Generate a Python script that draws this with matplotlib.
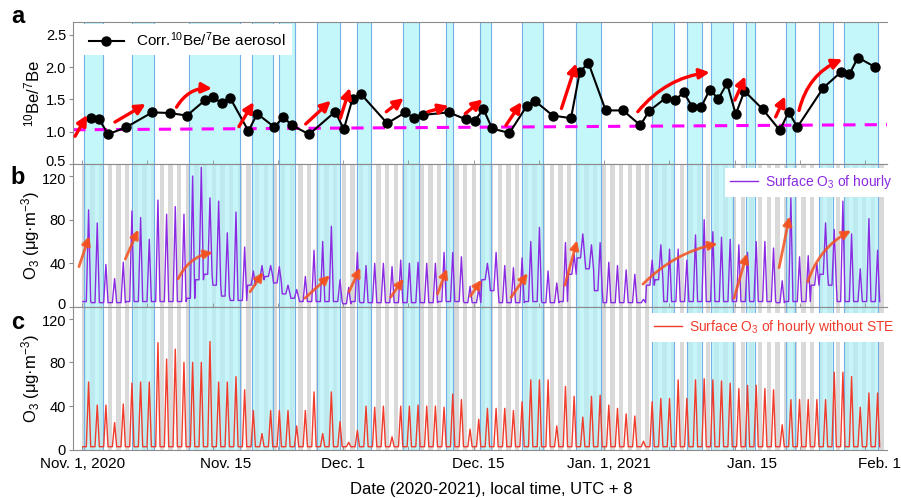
import numpy as np
import matplotlib.pyplot as plt
import matplotlib.transforms as mtrans
from matplotlib.colors import to_rgba

plt.rcParams['font.family'] = ['Liberation Sans', 'DejaVu Sans']
plt.rcParams['mathtext.fontset'] = 'custom'
plt.rcParams['mathtext.rm'] = 'Liberation Sans'
plt.rcParams['mathtext.it'] = 'Liberation Sans:italic'

# x = days since Nov. 1, 2020
be_day = [1.0, 2.0, 3.0, 5.1, 8.1, 10.1, 12.1, 14.2, 15.1, 16.1, 17.1, 19.2, 20.2, 22.2, 23.2,
          24.2, 26.2, 29.2, 30.2, 31.2, 32.2, 35.2, 37.3, 38.3, 39.3, 42.3, 44.3, 45.3, 46.3, 47.3,
          49.3, 51.3, 52.3, 54.3, 56.4, 57.4, 58.4, 60.4, 62.4, 64.4, 65.4, 67.4, 68.4, 69.4, 70.4,
          71.4, 72.4, 73.4, 74.4, 75.4, 76.4, 78.5, 80.5, 81.5, 82.5, 85.5, 87.5, 88.5, 89.5, 91.5]
be_ratio = [1.22, 1.19, 0.96, 1.07, 1.30, 1.29, 1.25, 1.49, 1.54, 1.44, 1.52, 1.01, 1.28, 1.07, 1.23,
            1.10, 0.96, 1.31, 1.04, 1.51, 1.58, 1.13, 1.30, 1.21, 1.26, 1.30, 1.19, 1.17, 1.35, 1.05,
            0.98, 1.40, 1.47, 1.25, 1.21, 1.92, 2.07, 1.33, 1.33, 1.10, 1.32, 1.53, 1.49, 1.61, 1.38,
            1.38, 1.65, 1.51, 1.75, 1.27, 1.63, 1.35, 1.02, 1.31, 1.07, 1.68, 1.92, 1.89, 2.15, 2.00]
trend_day = [-1.0, 93.0]
trend_ratio = [1.03, 1.11]

# STE periods (cyan)
ste_start = [0.27, 5.8, 12.38, 19.64, 22.76, 27.14, 31.75, 37.06, 41.95, 45.9, 50.78, 56.94,
             65.78, 69.82, 72.58, 76.62, 81.23, 84.95, 87.85]
ste_end = [2.39, 8.34, 18.22, 22.06, 24.57, 29.76, 33.3, 38.9, 42.83, 47.14, 53.2, 59.83,
           68.32, 71.55, 75.12, 77.66, 82.2, 86.59, 91.84]

# daily maximum / night minimum of hourly O3 (ug m-3)
o3_peak = [89, 77, 39, 26, 41, 88, 82, 62, 98, 85,
           92, 85, 120, 128, 100, 97, 68, 87, 55, 33,
           38, 38, 37, 20, 16, 28, 52, 60, 74, 25,
           18, 50, 38, 40, 40, 37, 43, 40, 41, 40,
           40, 50, 50, 46, 19, 17, 40, 50, 38, 36,
           45, 60, 73, 33, 22, 59, 48, 67, 57, 59,
           41, 38, 34, 30, 7, 43, 57, 53, 53, 43,
           66, 80, 69, 64, 62, 57, 50, 60, 60, 54,
           24, 100, 46, 47, 40, 77, 71, 97, 67, 35,
           81, 52]
o3_base = [5, 4, 4, 4, 4, 5, 5, 5, 5, 5,
           5, 5, 8, 25, 30, 20, 10, 6, 6, 20,
           25, 28, 22, 12, 8, 5, 5, 5, 5, 5,
           3, 5, 4, 4, 4, 4, 4, 4, 4, 4,
           4, 5, 5, 5, 4, 4, 25, 15, 4, 4,
           4, 5, 5, 4, 4, 5, 30, 45, 35, 15,
           4, 4, 4, 4, 4, 20, 25, 5, 5, 5,
           5, 5, 5, 5, 5, 5, 5, 5, 5, 5,
           4, 5, 5, 5, 20, 30, 20, 5, 5, 5,
           5, 5]
o3n_peak = [62, 41, 41, 25, 42, 61, 62, 62, 98, 83,
            92, 80, 80, 80, 99, 62, 62, 67, 55, 36,
            15, 36, 36, 36, 22, 36, 53, 15, 53, 26,
            7, 18, 40, 39, 40, 12, 40, 40, 41, 40,
            40, 39, 51, 46, 19, 28, 38, 38, 38, 36,
            44, 64, 64, 64, 22, 58, 49, 30, 49, 50,
            41, 38, 33, 31, 8, 44, 47, 47, 64, 47,
            64, 65, 64, 63, 61, 56, 59, 59, 56, 55,
            23, 46, 46, 46, 46, 46, 71, 71, 67, 39,
            52, 52]
o3n_base = [3] * 92

arrows_a = [(-0.8, 0.93, 0.6, 1.26, 0), (3.8, 1.15, 7.35, 1.43, 0), (10.9, 1.38, 15.0, 1.67, -0.3),
            (18.1, 1.08, 19.8, 1.46, 0), (25.8, 1.12, 28.7, 1.48, 0), (29.8, 1.21, 30.9, 1.68, 0),
            (35.1, 1.31, 37.1, 1.52, 0), (39.9, 1.31, 42.3, 1.40, 0), (44.2, 1.28, 46.2, 1.50, 0),
            (48.9, 1.10, 50.7, 1.46, 0), (55.3, 1.36, 57.0, 2.06, 0), (64.1, 1.31, 72.4, 1.92, -0.2),
            (75.3, 1.49, 76.5, 1.86, 0), (80.0, 1.23, 81.1, 1.55, 0), (82.7, 1.33, 87.7, 2.12, -0.25)]
arrows_b = [(-0.35, 37, 0.84, 65, 0), (5.0, 44, 6.5, 71, 0), (11.1, 26, 15.1, 50, -0.25),
            (19.4, 14, 20.9, 32, 0), (25.7, 8, 28.6, 29, 0), (30.8, 14, 32.1, 36, 0),
            (35.6, 9, 37.1, 26, 0), (41.0, 12, 42.1, 35, 0), (44.8, 10, 46.1, 25, 0),
            (49.5, 9, 51.4, 31, 0), (55.7, 20, 57.1, 61, 0), (64.7, 21, 73.3, 58, -0.15),
            (75.2, 8, 76.7, 49, 0), (80.4, 36, 81.6, 83, 0), (83.7, 23, 88.7, 70, -0.2)]

tick_days = np.arange(13) * 7.527
label_days = [0.1, 16.6, 30.1, 45.7, 60.8, 77.3, 92.0]
label_text = ['Nov. 1, 2020', 'Nov. 15', 'Dec. 1', 'Dec. 15', 'Jan. 1, 2021', 'Jan. 15', 'Feb. 1']


def hourly(peak, base):
    xs, ys = [], []
    for d, (p, b) in enumerate(zip(peak, base)):
        xs += [d + 0.1, d + 0.5, d + 0.76, d + 1.0]
        ys += [b, b, p, b]
    return xs, ys


cyan = '#c4f7fa'
edge = '#74b0e6'
gray = '#d9d9d9'
spine_c = '#8c8c8c'

fig = plt.figure(figsize=(9.01, 4.98), dpi=100)
axa = fig.add_axes([0.081, 0.6707, 0.9035, 0.2851])
axb = fig.add_axes([0.081, 0.3835, 0.9035, 0.2871])
axc = fig.add_axes([0.081, 0.0964, 0.9035, 0.2871])

for ax in (axa, axb, axc):
    ax.set_xlim(-1.04, 92.85)
    for s in ('top', 'bottom', 'left'):
        ax.spines[s].set_color(spine_c)
        ax.spines[s].set_linewidth(0.8)
    ax.spines['right'].set_visible(False)
    ax.set_xticks(tick_days, minor=True)
    ax.set_xticks(label_days)
    ax.tick_params(axis='x', which='major', length=0)
    ax.tick_params(axis='x', which='minor', direction='in', length=3, color=spine_c)
    ax.tick_params(axis='y', direction='out', length=3, color=spine_c, labelsize=10.5, pad=2)
    ax.yaxis.set_label_coords(-0.038, 0.5)

# gray night bands for O3 panels
for ax in (axb, axc):
    for d in range(93):
        ax.axvspan(d - 0.05, d + 0.45, color=gray, lw=0, zorder=0)

for s0, s1 in zip(ste_start, ste_end):
    axa.axvspan(s0, s1, facecolor=cyan, edgecolor=edge, lw=0.8, zorder=0.5)
    for ax in (axb, axc):
        ax.axvspan(s0, s1, facecolor=to_rgba('#b0f2f7', 0.7), edgecolor=edge, lw=0.8, zorder=0.5)

# panel a
axa.plot(trend_day, trend_ratio, color='#ff00ff', lw=2.2, dashes=(4, 3), zorder=2)
axa.plot(be_day, be_ratio, '-o', color='black', lw=1.5, ms=6.5, zorder=4,
         label='Corr.$^{10}$Be/$^{7}$Be aerosol')
for x0, y0, x1, y1, rad in arrows_a:
    axa.annotate('', xy=(x1, y1), xytext=(x0, y0), zorder=5,
                 arrowprops=dict(arrowstyle='-|>', color='red', lw=2.4, mutation_scale=15,
                                 shrinkA=0, shrinkB=0, connectionstyle=f'arc3,rad={rad}'))
axa.set_ylim(0.5, 2.7)
axa.set_yticks([0.5, 1.0, 1.5, 2.0, 2.5])
axa.set_yticklabels(['0.5', '1.0', '1.5', '2.0', '2.5'])
axa.set_ylabel('$^{10}$Be/$^{7}$Be', fontsize=12)
axa.set_xticklabels([])
axa.legend(loc='upper left', bbox_to_anchor=(0.012, 0.985), borderaxespad=0, fontsize=11,
           fancybox=False, framealpha=1, edgecolor='none', handlelength=2.3)

# panel b
xb, yb = hourly(o3_peak, o3_base)
axb.plot(xb, yb, color='#8a2be2', lw=1.0, zorder=3, label='Surface O$_3$ of hourly')
for x0, y0, x1, y1, rad in arrows_b:
    axb.annotate('', xy=(x1, y1), xytext=(x0, y0), zorder=5,
                 arrowprops=dict(arrowstyle='-|>', color=to_rgba('#f4511e', 0.85), lw=2.0,
                                 mutation_scale=13, shrinkA=0, shrinkB=0,
                                 connectionstyle=f'arc3,rad={rad}'))
axb.set_ylim(0, 131)
axb.set_yticks([0, 40, 80, 120])
axb.set_ylabel('O$_3$ (μg·m$^{-3}$)', fontsize=12)
axb.set_xticklabels([])
axb.legend(loc='upper right', bbox_to_anchor=(1.0135, 0.975), borderaxespad=0, fontsize=10,
           fancybox=False, framealpha=1, edgecolor='none', handlelength=2.0, handletextpad=0.5,
           labelcolor='#8a2be2')

# panel c
xc, yc = hourly(o3n_peak, o3n_base)
axc.plot(xc, yc, color='#f03c2c', lw=1.0, zorder=3, label='Surface O$_3$ of hourly without STE')
axc.set_ylim(0, 130.5)
axc.set_yticks([0, 40, 80, 120])
axc.set_ylabel('O$_3$ (μg·m$^{-3}$)', fontsize=12)
axc.set_xticklabels(label_text, fontsize=11)
axc.tick_params(axis='x', which='major', pad=5)
axc.legend(loc='upper right', bbox_to_anchor=(1.016, 0.96), borderaxespad=0, fontsize=10,
           fancybox=False, framealpha=1, edgecolor='none', handlelength=2.0, handletextpad=0.5,
           labelcolor='#f03c2c')

# nudge the touching tick labels at the panel joints apart
up = mtrans.ScaledTranslation(0, 2.5 / 72, fig.dpi_scale_trans)
down = mtrans.ScaledTranslation(0, -1.5 / 72, fig.dpi_scale_trans)
for ax in (axa, axb):
    lab = ax.get_yticklabels()[0]
    lab.set_transform(lab.get_transform() + up)
for ax in (axb, axc):
    lab = ax.get_yticklabels()[-1]
    lab.set_transform(lab.get_transform() + down)

fig.text(0.545, 0.018, 'Date (2020-2021), local time, UTC + 8', ha='center', va='center', fontsize=12)
for lab, yy in (('a', 0.966), ('b', 0.643), ('c', 0.353)):
    fig.text(0.02, yy, lab, ha='center', va='center', fontsize=17, fontweight='bold')

fig.savefig('out.png', dpi=100)
